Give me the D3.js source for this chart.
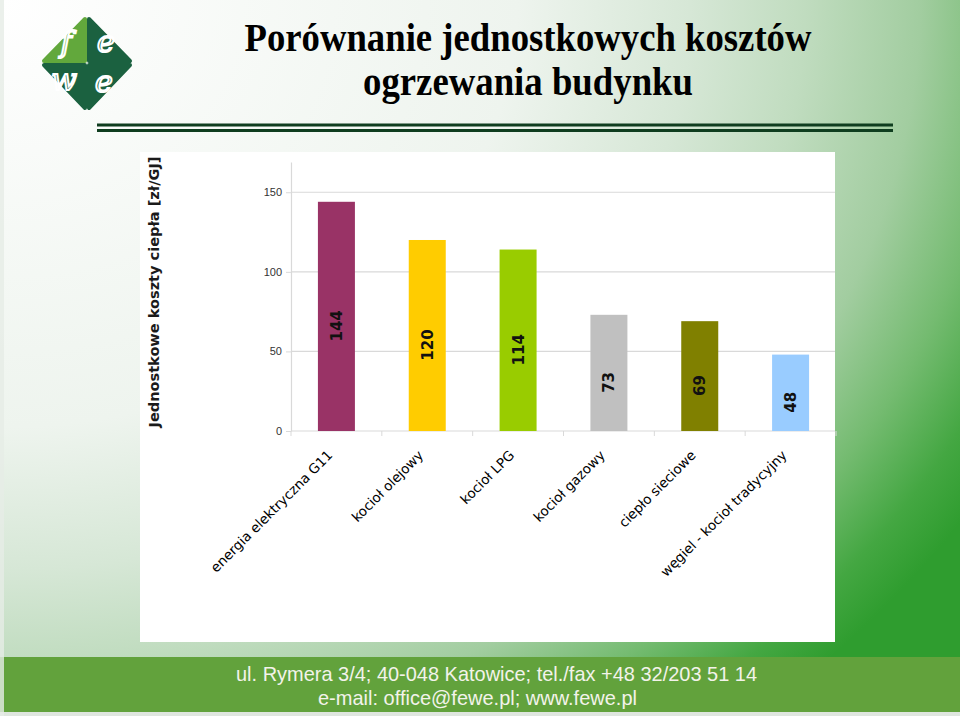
<!DOCTYPE html>
<html><head><meta charset="utf-8">
<script src="https://cdn.jsdelivr.net/npm/d3@7"></script>
<style>html,body{margin:0;padding:0;overflow:hidden;background:#fff}</style>
</head><body>
<svg id="c" width="960" height="716"></svg>
<script>
const categories = ["energia elektryczna G11","kocioł olejowy","kocioł LPG","kocioł gazowy","ciepło sieciowe","węgiel - kocioł tradycyjny"];
const values = [144,120,114,73,69,48];
const barColors = ["#993366","#ffcc00","#99cc00","#c0c0c0","#808000","#99ccff"];
const yTicks = [0,50,100,150];
const titleLines = ["Porównanie jednostkowych kosztów","ogrzewania budynku"];
const yTitle = "Jednostkowe koszty ciepła [zł/GJ]";
const footerLines = ["ul. Rymera 3/4; 40-048 Katowice; tel./fax +48 32/203 51 14","e-mail: office@fewe.pl; www.fewe.pl"];

const svg = d3.select("#c");
const defs = svg.append("defs");
const g = defs.append("radialGradient").attr("id","bg").attr("gradientUnits","userSpaceOnUse")
  .attr("cx",0).attr("cy",0).attr("r",1150).attr("fx",0).attr("fy",0)
  .attr("gradientTransform","scale(1,0.826)");
[[0,"#ffffff"],[0.45,"#eef4ee"],[0.6,"#d6e7d6"],[0.7,"#c0dcbf"],[0.8,"#a2cda0"],[0.88,"#74bb70"],[0.95,"#44a742"],[1,"#2f9d2f"]]
  .forEach(s=>g.append("stop").attr("offset",s[0]).attr("stop-color",s[1]));
svg.append("rect").attr("width",960).attr("height",716).attr("fill","url(#bg)");

// logo
const logo = svg.append("g");
const quads = [
  {p:[[44,61],[85,19],[85,61]], c:"#62a83c", t:"f", tx:66, ty:52},
  {p:[[89,19],[130,61],[89,61]], c:"#1b6140", t:"e", tx:106, ty:52},
  {p:[[44,65],[85,65],[85,108]], c:"#1b6140", t:"w", tx:64, ty:90},
  {p:[[89,65],[130,65],[89,108]], c:"#1b6140", t:"e", tx:104, ty:92}
];
quads.forEach(q=>{
  logo.append("path").attr("d", "M"+q.p.map(d=>d.join(",")).join("L")+"Z").attr("fill",q.c)
    .attr("stroke",q.c).attr("stroke-width",4).attr("stroke-linejoin","round");
  logo.append("text").attr("x",q.tx).attr("y",q.ty).attr("text-anchor","middle")
    .attr("font-family","DejaVu Serif").attr("font-style","italic").attr("font-size",30)
    .attr("fill","none").attr("stroke","#fff").attr("stroke-width",2).text(q.t);
});

// title
svg.selectAll("text.title").data(titleLines).join("text").attr("class","title")
  .attr("x",528).attr("y",(d,i)=>51+i*44).attr("text-anchor","middle")
  .attr("font-family","Liberation Serif").attr("font-weight","bold").attr("font-size",39)
  .attr("fill","#000")
  .attr("textLength",(d,i)=>i===0?567:330).attr("lengthAdjust","spacingAndGlyphs")
  .text(d=>d);

// double rule
[125,130.5].forEach(y=>svg.append("line").attr("x1",97).attr("x2",893).attr("y1",y).attr("y2",y)
  .attr("stroke","#0f3d1f").attr("stroke-width",3));

// chart area
svg.append("rect").attr("x",140).attr("y",152).attr("width",695).attr("height",490).attr("fill","#fff");

const x = d3.scaleBand().domain(categories).range([291,836]).padding(0);
const y = d3.scaleLinear().domain([0,169]).range([431,162]);
const bw = 37;

// gridlines
svg.append("g").selectAll("line").data(yTicks).join("line")
  .attr("x1",291).attr("x2",835).attr("y1",d=>y(d)).attr("y2",d=>y(d))
  .attr("stroke","#d9d9d9").attr("stroke-width",1.2);

// y axis
const ya = svg.append("g").attr("transform","translate(291,0)")
  .call(d3.axisLeft(y).tickValues(yTicks).tickSize(5).tickSizeOuter(0).tickPadding(4));
ya.select(".domain").attr("stroke","#d9d9d9").attr("stroke-width",1.2);
ya.selectAll(".tick line").attr("stroke","#d9d9d9");
ya.selectAll(".tick text").attr("font-family","Liberation Sans").attr("font-size",11).attr("fill","#333");

// x ticks at band boundaries
const bounds = categories.map(c=>x(c)).concat([x(categories[categories.length-1])+x.bandwidth()]);
svg.append("g").selectAll("line").data(bounds).join("line")
  .attr("x1",d=>d).attr("x2",d=>d).attr("y1",431).attr("y2",436)
  .attr("stroke","#d9d9d9").attr("stroke-width",1);

// bars
const data = categories.map((c,i)=>({c, v:values[i], col:barColors[i]}));
svg.append("g").selectAll("rect").data(data).join("rect")
  .attr("x",d=>x(d.c)+(x.bandwidth()-bw)/2).attr("width",bw)
  .attr("y",d=>y(d.v)).attr("height",d=>y(0)-y(d.v)).attr("fill",d=>d.col);

// bar labels
svg.append("g").selectAll("text").data(data).join("text")
  .attr("transform",d=>{const cx=x(d.c)+x.bandwidth()/2; const cy=(y(d.v)+y(0))/2+9.5; return `translate(${cx+5.5},${cy}) rotate(-90)`;})
  .attr("text-anchor","middle").attr("font-family","DejaVu Sans").attr("font-weight","bold")
  .attr("font-size",15).attr("fill","#111").text(d=>d.v);

// category labels
svg.append("g").selectAll("text").data(categories).join("text")
  .attr("transform",d=>`translate(${x(d)+x.bandwidth()/2-3},456) rotate(-45)`)
  .attr("text-anchor","end").attr("font-family","DejaVu Sans").attr("font-size",13.5)
  .attr("fill","#000").text(d=>d);

// y title
svg.append("text").attr("transform","translate(159,292) rotate(-90)")
  .attr("text-anchor","middle").attr("font-family","DejaVu Sans").attr("font-weight","bold")
  .attr("font-size",14.5).attr("fill","#1a1a1a")
  .attr("textLength",271).attr("lengthAdjust","spacingAndGlyphs").text(yTitle);

// footer
svg.append("rect").attr("x",0).attr("y",657).attr("width",960).attr("height",59).attr("fill","#62a23c");
svg.append("rect").attr("x",0).attr("y",712).attr("width",960).attr("height",4).attr("fill","#dfe6df");
svg.append("rect").attr("x",0).attr("y",0).attr("width",4).attr("height",716).attr("fill","#e6ece6").attr("opacity",0.8);
svg.selectAll("text.foot").data(footerLines).join("text").attr("class","foot")
  .attr("x",(d,i)=>i===0?496.5:477.5).attr("y",(d,i)=>681+i*24).attr("text-anchor","middle")
  .attr("font-family","Liberation Sans Narrow, Liberation Sans").attr("font-size",21)
  .attr("fill","#f3f3ea")
  .attr("textLength",(d,i)=>i===0?521:319).attr("lengthAdjust","spacingAndGlyphs")
  .text(d=>d);
</script>
</body></html>
